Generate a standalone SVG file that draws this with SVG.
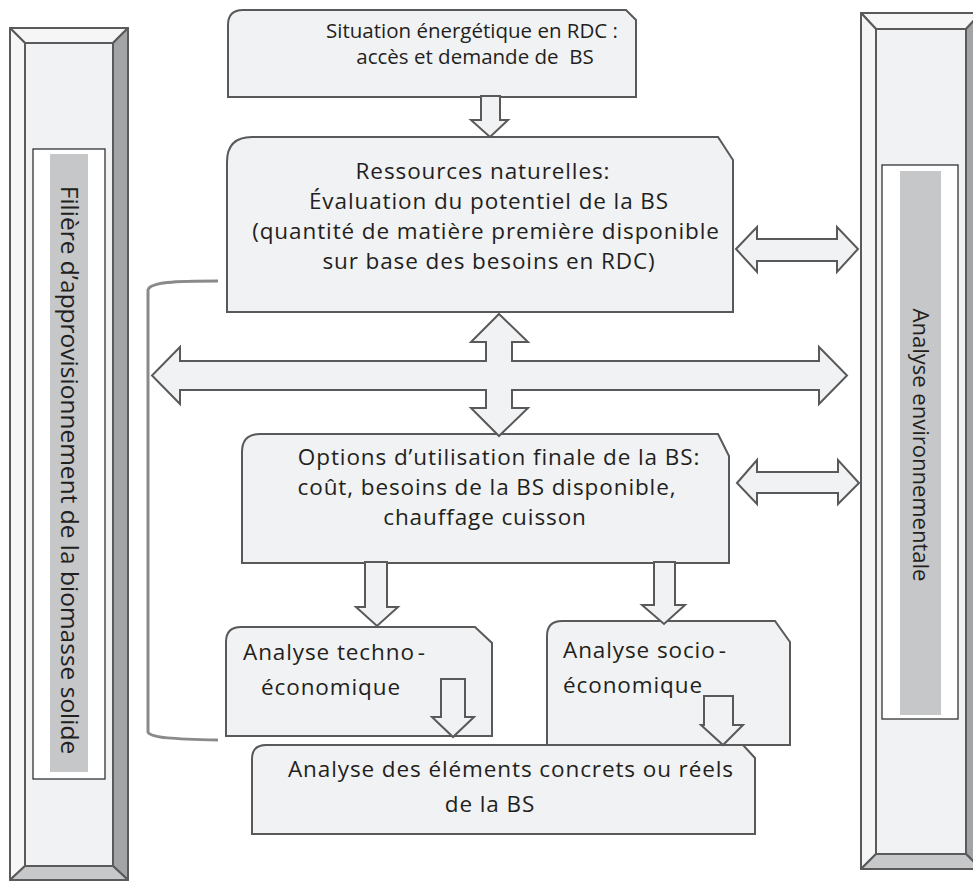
<svg xmlns="http://www.w3.org/2000/svg" width="973" height="882" viewBox="0 0 973 882">
<style>
.box{fill:#f1f2f4;stroke:#595959;stroke-width:2}
.arr{fill:#f1f2f4;stroke:#595959;stroke-width:2;stroke-linejoin:miter}
.lt{fill:#f6f6f7;stroke:#5a5a5a;stroke-width:2;stroke-linejoin:round}
.dk{fill:#a3a4a6;stroke:#5a5a5a;stroke-width:2;stroke-linejoin:round}
.md{fill:#c7c8ca;stroke:#5a5a5a;stroke-width:2;stroke-linejoin:round}
.face{fill:#f1f2f4;stroke:#5a5a5a;stroke-width:2}
.wbox{fill:#ffffff;stroke:#333333;stroke-width:1.3}
.strip{fill:#c6c7c9}
text{font-family:"Open Sans","Noto Sans",sans-serif;font-size:22.5px;letter-spacing:0.9px;fill:#231f20}
.c{text-anchor:middle}
.v{text-anchor:middle;font-size:24.5px;letter-spacing:0}
.br{fill:none;stroke:#8a8a8a;stroke-width:3}
</style>

<g id="filiere">
  <polygon class="lt" points="10,28 128,28 113,43 25,43"/>
  <polygon class="lt" points="10,28 25,43 25,866 10,880"/>
  <polygon class="dk" points="128,28 128,880 113,866 113,43"/>
  <polygon class="md" points="25,866 113,866 128,880 10,880"/>
  <rect class="face" x="25" y="43" width="88" height="823"/>
  <rect class="wbox" x="33" y="149" width="72" height="630"/>
  <rect class="strip" x="50" y="154" width="38" height="618"/>
  <text class="v" transform="translate(61,470) rotate(90)">Filière d’approvisionnement de la biomasse solide</text>
</g>

<g id="environnement">
  <polygon class="lt" points="861,13 981,13 966,29 876,29"/>
  <polygon class="lt" points="861,13 876,29 876,854 861,869"/>
  <polygon class="dk" points="981,13 981,869 966,854 966,29"/>
  <polygon class="md" points="876,854 966,854 981,869 861,869"/>
  <rect class="face" x="876" y="29" width="90" height="825"/>
  <rect class="wbox" x="882" y="165" width="76" height="554"/>
  <rect class="strip" x="900" y="171" width="41" height="544"/>
  <text class="v" style="font-size:22px" transform="translate(913,445) rotate(90)">Analyse environnementale</text>
</g>

<g id="bracket">
  <path class="br" d="M218,281 C175,281 150,282 148,290 L148,732 C150,738 175,739 218,740"/>
</g>

<g id="situation">
  <path class="box" d="M243,10 L626,10 L636,20 L636,97 L228,97 L228,25 Q228,10 243,10 Z"/>
  <text class="c" style="font-size:20.5px;letter-spacing:0;white-space:pre"><tspan x="472" y="38">Situation énergétique en RDC :</tspan><tspan x="475" y="64">accès et demande de  BS</tspan></text>
</g>

<g id="ressources">
  <path class="box" d="M252,137 L718,137 L733,160 L733,312 L227,312 L227,162 Q227,137 252,137 Z"/>
  <text class="c"><tspan x="483" y="179">Ressources naturelles:</tspan><tspan x="489" y="209">Évaluation du potentiel de la BS</tspan><tspan x="486" y="239">(quantité de matière première disponible</tspan><tspan x="489" y="269">sur base des besoins en RDC)</tspan></text>
</g>

<g id="options">
  <path class="box" d="M260,434 L718,434 L729,456 L729,563 L242,563 L242,452 Q242,434 260,434 Z"/>
  <text class="c"><tspan x="499" y="465">Options d’utilisation finale de la BS:</tspan><tspan x="487" y="495">coût, besoins de la BS disponible,</tspan><tspan x="485" y="525">chauffage cuisson</tspan></text>
</g>

<g id="techno">
  <path class="box" d="M241,627 L475,627 L492,643 L492,736 L226,736 L226,642 Q226,627 241,627 Z"/>
  <text><tspan x="243" y="660">Analyse techno</tspan><tspan dx="3">-</tspan><tspan x="261" y="695">économique</tspan></text>
</g>

<g id="socio">
  <path class="box" d="M562,621 L775,621 L790,642 L790,745 L547,745 L547,636 Q547,621 562,621 Z"/>
  <text><tspan x="563" y="658">Analyse socio</tspan><tspan dx="3">-</tspan><tspan x="563" y="693">économique</tspan></text>
</g>

<g id="concrets">
  <path class="box" d="M266,745 L743,745 L755,758 L755,834 L252,834 L252,759 Q252,745 266,745 Z"/>
  <text class="c"><tspan x="511" y="777">Analyse des éléments concrets ou réels</tspan><tspan x="490" y="812">de la BS</tspan></text>
</g>

<g id="connectors">
  <polygon class="arr" points="481,96 500,96 500,120 508,120 490,137 471,120 481,120"/>
  <polygon class="arr" points="499,314 528,342 512,342 512,361 819,361 819,347 847,375.5 819,404 819,390 512,390 512,408 528,408 499,436 471,408 486,408 486,390 180,390 180,404 152,375.5 180,347 180,361 486,361 486,342 471,342"/>
  <polygon class="arr" points="736,249 757,227 757,239 837,239 837,227 858,249 837,272 837,261 757,261 757,272"/>
  <polygon class="arr" points="737,483 757,460 757,472 838,472 838,460 859,483 838,504 838,493 757,493 757,504"/>
  <polygon class="arr" points="365,562 387,562 387,607 398,607 377,626 356,607 365,607"/>
  <polygon class="arr" points="654,562 675,562 675,605 685,605 664,624 642,605 654,605"/>
  <polygon class="arr" points="441,679 465,679 465,717 474,717 453,737 432,717 441,717"/>
  <polygon class="arr" points="704,696 733,696 733,725 743,725 723,745 701,725 704,725"/>
</g>
</svg>
